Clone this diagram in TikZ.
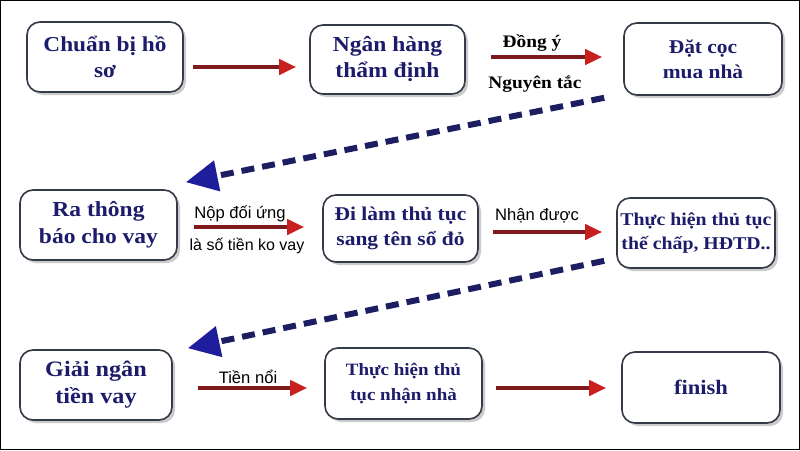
\documentclass[tikz,border=0pt]{standalone}
\usepackage{fontspec}
\setmainfont[FakeStretch=1.1]{Liberation Serif}
\newfontfamily\lsans{Liberation Sans}
\usetikzlibrary{arrows.meta,shadows,calc}
\definecolor{boxtext}{HTML}{1C1C6B}
\definecolor{boxline}{HTML}{353A48}
\definecolor{shaft}{HTML}{7E1A1C}
\definecolor{headred}{HTML}{C8201E}
\definecolor{dashblue}{HTML}{1D1D62}
\definecolor{headblue}{HTML}{1E1E9C}
\begin{document}
\begin{tikzpicture}[x=1pt,y=-1pt,
  stepbox/.style={draw=boxline,line width=1.6pt,rounded corners=13pt,fill=white,
    drop shadow={shadow xshift=3pt,shadow yshift=-3pt,fill=black!45,opacity=.45},
    inner sep=2pt,align=center,text=boxtext},
  bx/.style 2 args={minimum width=#1pt,minimum height=#2pt},
  redarrow/.style={draw=shaft,line width=4pt,-{Triangle[length=17pt,width=15pt,color=headred]}},
  bluearrow/.style={draw=dashblue,line width=6pt,dash pattern=on 13pt off 8pt,
    -{Triangle[length=32pt,width=30pt,color=headblue]}},
  serlab/.style={font=\bfseries\fontsize{17.6}{20}\selectfont,text=black,anchor=base,inner sep=0pt},
  sanslab/.style={font=\lsans\fontsize{16.6}{18}\selectfont,text=black,anchor=base,inner sep=0pt}
]
\useasboundingbox (0,0) rectangle (800,450);
\fill[white] (0,0) rectangle (800,450);
\draw[black,line width=1pt] (0.5,0.5) rectangle (799.5,449.5);

% boxes
\node[stepbox,bx={156}{70},font=\bfseries\fontsize{21.2}{26}\selectfont] (A) at (105,57) {Chuẩn bị hồ\\sơ};
\node[stepbox,bx={155}{69},font=\bfseries\fontsize{21.4}{26}\selectfont] (B) at (387.5,59.5) {Ngân hàng\\thẩm định};
\node[stepbox,bx={158}{72},font=\bfseries\fontsize{19.5}{25}\selectfont] (C) at (703,59) {Đặt cọc\\mua nhà};
\node[stepbox,bx={157}{70},font=\bfseries\fontsize{21.4}{26.5}\selectfont] (D) at (98.5,225) {Ra thông\\báo cho vay};
\node[stepbox,bx={155}{67},font=\bfseries\fontsize{19.5}{25}\selectfont] (E) at (400.5,228.5) {Đi làm thủ tục\\sang tên sổ đỏ};
\node[stepbox,bx={158}{70},font=\bfseries\fontsize{18}{24.5}\selectfont] (F) at (696,233) {Thực hiện thủ tục\\thế chấp, HĐTD..};
\node[stepbox,bx={152}{70},font=\bfseries\fontsize{22}{27}\selectfont] (G) at (96,385) {Giải ngân\\tiền vay};
\node[stepbox,bx={157}{71},font=\bfseries\fontsize{17.3}{25}\selectfont] (H) at (403.5,383.5) {Thực hiện thủ\\tục nhận nhà};
\node[stepbox,bx={158}{71},font=\bfseries\fontsize{20.5}{24}\selectfont] (I) at (701,387.5) {finish};

% red arrows
\draw[redarrow] ($(A.east)+(9,10)$) -- ($(B.west)+(-13,7.5)$);
\draw[redarrow] ($(B.east)+(25,-2.5)$) -- ($(C.west)+(-21,-2)$);
\draw[redarrow] ($(D.east)+(16,2)$) -- ($(E.west)+(-18,-1.5)$);
\draw[redarrow] ($(E.east)+(14,3.5)$) -- ($(F.west)+(-14,-1)$);
\draw[redarrow] ($(G.east)+(25,3)$) -- ($(H.west)+(-17,4.5)$);
\draw[redarrow] ($(H.east)+(13,4.5)$) -- ($(I.west)+(-15,0.5)$);

% dashed arrows
\draw[bluearrow] ($(C.south west)+(-19,2)$) -- ($(D.north east)+(8,-7)$);
\draw[bluearrow] ($(F.south west)+(-12,-8)$) -- ($(G.north east)+(15,-1)$);

% labels
\node[serlab] (l1) at (532,47) {Đồng ý};
\node[serlab] (l2) at (535,88) {Nguyên tắc};
\node[sanslab] (l3) at (240,218) {Nộp đối ứng};
\node[sanslab,font=\lsans\fontsize{16}{18}\selectfont] (l4) at (247,250) {là số tiền ko vay};
\node[sanslab] (l5) at (537,220) {Nhận được};
\node[sanslab] (l6) at (248,383) {Tiền nổi};
\end{tikzpicture}
\end{document}
